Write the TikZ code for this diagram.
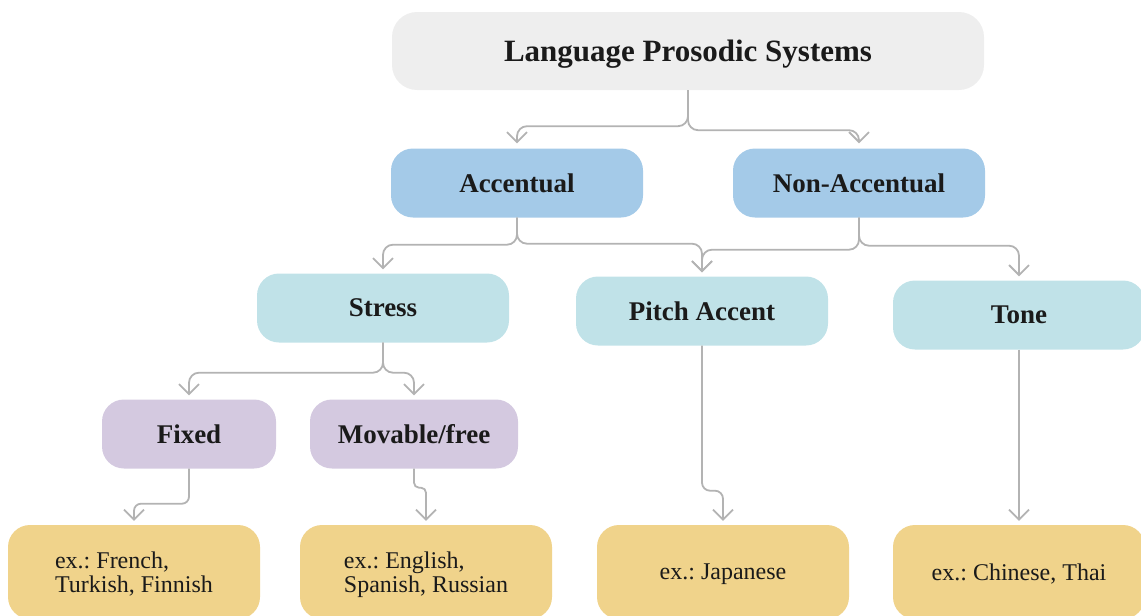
\documentclass[tikz,border=0pt]{standalone}
\usepackage{fontspec}
\setmainfont{Liberation Serif}
\usetikzlibrary{arrows.meta}
\frenchspacing
\definecolor{rootc}{HTML}{EEEEEE}
\definecolor{accc}{HTML}{A4CAE8}
\definecolor{lvlc}{HTML}{C0E2E8}
\definecolor{purc}{HTML}{D4C9E0}
\definecolor{exc}{HTML}{F0D38B}
\definecolor{linec}{HTML}{B3B3B3}
\definecolor{txtc}{HTML}{1A1A1A}
\tikzset{
  box/.style={rounded corners=22pt, inner sep=0pt, text=txtc, minimum height=69pt, minimum width=252pt,
    font=\bfseries\fontsize{27}{30}\selectfont},
  rootbox/.style={box, fill=rootc, minimum width=592pt, minimum height=78pt, rounded corners=25pt,
    text depth=0pt, font=\bfseries\fontsize{31}{34}\selectfont},
  accbox/.style={box, fill=accc},
  lvlbox/.style={box, fill=lvlc},
  purbox/.style={box, fill=purc},
  exbox/.style={box, fill=exc, minimum height=94pt, align=left, text depth=0pt,
    font=\fontsize{24}{24}\selectfont},
  conn/.style={draw=linec, line width=1.8pt, rounded corners=10pt, shorten >=4pt,
    -{Straight Barb[length=10pt,width=20pt,line width=1.8pt]}},
}
\begin{document}
\begin{tikzpicture}[x=1pt,y=-1pt]
\useasboundingbox (0,0) rectangle (1141,616);
\clip (0,0) rectangle (1141,616);
\node[rootbox] (root) at (688,51) {Language Prosodic Systems};
\node[accbox] (acc) at (517,183) {Accentual};
\node[accbox] (nacc) at (859,183) {Non-Accentual};
\node[lvlbox] (stress) at (383,308) {Stress};
\node[lvlbox] (pitch) at (702,311) {Pitch Accent};
\node[lvlbox] (tone) at (1019,315) {Tone};
\node[purbox, minimum width=174pt] (fixed) at (189,434) {Fixed};
\node[purbox, minimum width=208pt] (mov) at (414,434) {Movable/free};
\node[exbox] (exfr) at (134,572) {ex.: French,\\Turkish, Finnish};
\node[exbox] (exen) at (426,572) {ex.: English,\\Spanish, Russian};
\node[exbox] (exja) at (723,572) {ex.: Japanese};
\node[exbox] (exzh) at (1019,572) {ex.: Chinese, Thai};

\draw[conn, shorten >=5pt] (root.south) -- ++(0,36) -| (acc.north);
\draw[conn, shorten >=5pt] (root.south) -- ++(0,40) -| (nacc.north);
\draw[conn] (acc.south) -- ++(0,27) -| (stress.north);
\draw[conn] (acc.south) -- ++(0,26) -| (pitch.north);
\draw[conn] (nacc.south) -- ++(0,32) -| (pitch.north);
\draw[conn] (nacc.south) -- ++(0,28) -| (tone.north);
\draw[conn] (stress.south) -- ++(0,30) -| (fixed.north);
\draw[conn] (stress.south) -- ++(0,30) -| (mov.north);
\draw[conn, rounded corners=7pt] (fixed.south) -- ++(0,35) -| (exfr.north);
\draw[conn, rounded corners=5pt] (mov.south) -- ++(0,19) -| (exen.north);
\draw[conn, rounded corners=8pt] (pitch.south) -- ++(0,145) -| (exja.north);
\draw[conn] (tone.south) -- (exzh.north);
\end{tikzpicture}
\end{document}
